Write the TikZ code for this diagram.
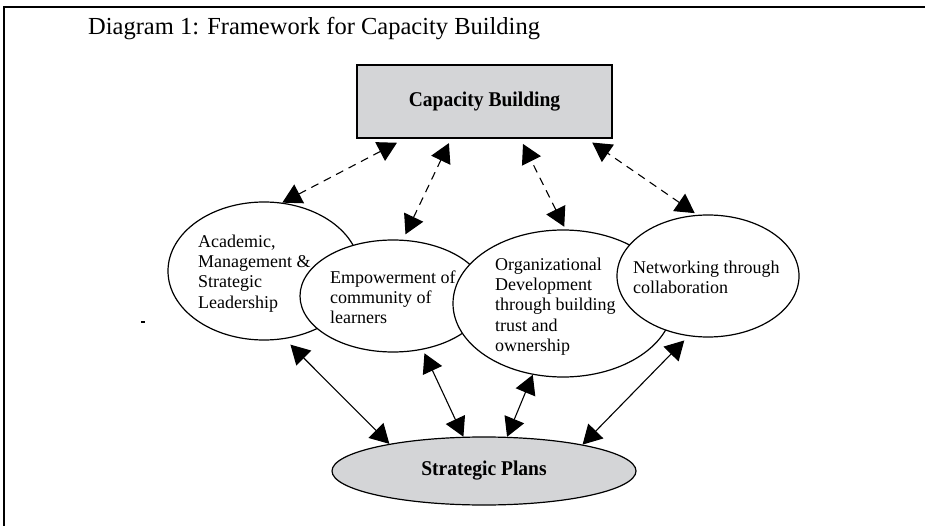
\documentclass[tikz,border=0pt]{standalone}
\usepackage{fontspec}
\usepackage{graphicx}
\setmainfont{Liberation Serif}
\usetikzlibrary{shapes.geometric,arrows.meta}
\definecolor{boxgray}{RGB}{212,213,215}
\tikzset{
  oval/.style={ellipse,draw,fill=white,line width=1.2pt,inner sep=0pt},
  ovaltext/.style={anchor=north west,align=left,inner sep=0pt,font=\fontsize{18}{20.3}\selectfont},
  boldtext/.style={font=\fontsize{21}{24}\selectfont\bfseries},
  dasharrow/.style={<->,dash pattern=on 8pt off 6pt,line width=1.1pt,>={Triangle[length=19pt,width=21pt]}},
  solidarrow/.style={<->,line width=1.1pt,>={Triangle[length=19pt,width=21pt]}}
}
\begin{document}
\begin{tikzpicture}[x=1pt,y=-1pt]
  \useasboundingbox (0,0) rectangle (925,526);
  \draw[line width=2pt] (925,7) -- (4,7) -- (4,526);
  \node[anchor=base west,inner sep=0pt,font=\fontsize{24.5}{28}\selectfont] (title) at (88,35)
    {Diagram 1: Framework for Capacity Building};
  \node[draw,fill=boxgray,line width=1.2pt,minimum width=255pt,minimum height=73pt,boldtext] (cap)
    at (484.5,101.5) {\scalebox{0.93}[1]{Capacity Building}};
  \node[oval,minimum width=192pt,minimum height=138pt] (acad) at (264,271) {};
  \node[oval,minimum width=186pt,minimum height=112pt] (empow) at (393,296) {};
  \node[oval,minimum width=220pt,minimum height=147pt] (org) at (563,303.5) {};
  \node[oval,minimum width=182pt,minimum height=122pt] (net) at (708,276) {};
  \node[oval,fill=boxgray,minimum width=304pt,minimum height=68pt,boldtext] (plans)
    at (484,471) {\scalebox{0.93}[1]{Strategic Plans}};
  \node[ovaltext] (acadtext) at (198,234.5) {Academic,\\Management \&\\Strategic\\Leadership};
  \node[ovaltext] (empowtext) at (330,270.5) {Empowerment of\\community of\\learners};
  \node[ovaltext] (orgtext) at (495,257.5) {Organizational\\Development\\through building\\trust and\\ownership};
  \node[ovaltext] (nettext) at (633,260.5) {Networking through\\collaboration};
  \draw[line width=1.5pt] (141,322) -- (145,322);
  \begin{scope}[dasharrow]
    \draw[shorten >=9pt] (acad.75) to (cap.205);
    \draw[shorten <=6pt,shorten >=5pt] (empow.80) to (cap.228);
    \draw[shorten <=3pt,shorten >=6pt] (org.88) to (cap.314);
    \draw[shorten <=3pt,shorten >=7pt] (net.100) to (cap.340);
  \end{scope}
  \begin{scope}[solidarrow]
    \draw[shorten <=8pt] (acad.287) to (plans.164);
    \draw[shorten <=4pt] (empow.299) to (plans.121);
    \draw (org.247) to (plans.56);
    \draw[shorten <=6pt] (net.252) to (plans.15);
  \end{scope}
\end{tikzpicture}
\end{document}
